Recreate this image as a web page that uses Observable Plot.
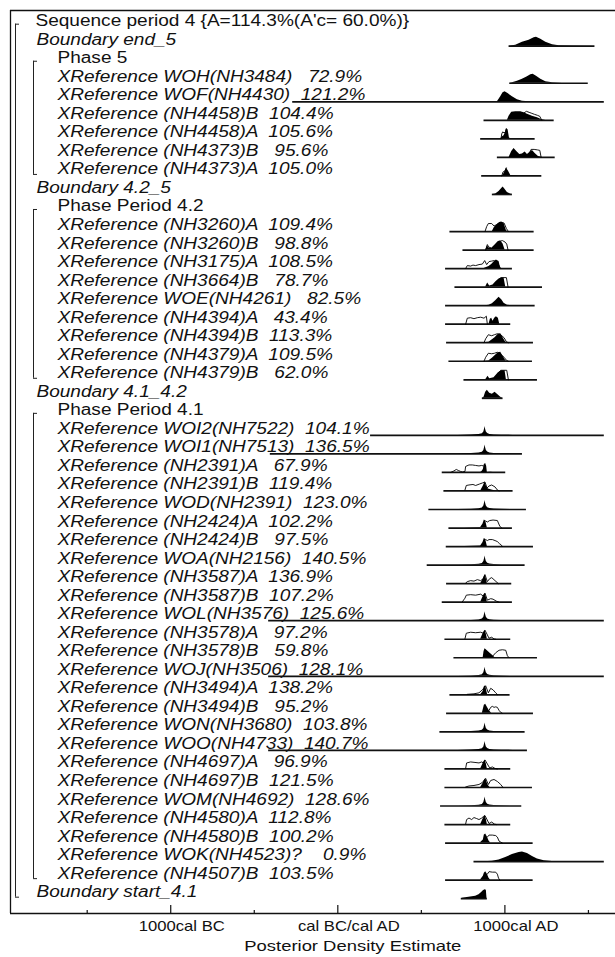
<!DOCTYPE html>
<html><head><meta charset="utf-8">
<script src="https://cdn.jsdelivr.net/npm/d3@7"></script>
<script src="https://cdn.jsdelivr.net/npm/@observablehq/plot@0.6"></script>
<style>
html,body{margin:0;padding:0;background:#fff}
svg text{white-space:pre}
</style>
</head><body><div id="chart"></div>
<script>
// ---------- data ----------
const rowLabels = [
"Sequence period 4 {A=114.3%(A'c= 60.0%)}",
"Boundary end_5",
"Phase 5",
"XReference WOH(NH3484)   72.9%",
"XReference WOF(NH4430)  121.2%",
"XReference (NH4458)B  104.4%",
"XReference (NH4458)A  105.6%",
"XReference (NH4373)B   95.6%",
"XReference (NH4373)A  105.0%",
"Boundary 4.2_5",
"Phase Period 4.2",
"XReference (NH3260)A  109.4%",
"XReference (NH3260)B   98.8%",
"XReference (NH3175)A  108.5%",
"XReference (NH3664)B   78.7%",
"XReference WOE(NH4261)   82.5%",
"XReference (NH4394)A   43.4%",
"XReference (NH4394)B  113.3%",
"XReference (NH4379)A  109.5%",
"XReference (NH4379)B   62.0%",
"Boundary 4.1_4.2",
"Phase Period 4.1",
"XReference WOI2(NH7522)  104.1%",
"XReference WOI1(NH7513)  136.5%",
"XReference (NH2391)A   67.9%",
"XReference (NH2391)B  119.4%",
"XReference WOD(NH2391)  123.0%",
"XReference (NH2424)A  102.2%",
"XReference (NH2424)B   97.5%",
"XReference WOA(NH2156)  140.5%",
"XReference (NH3587)A  136.9%",
"XReference (NH3587)B  107.2%",
"XReference WOL(NH3576)  125.6%",
"XReference (NH3578)A   97.2%",
"XReference (NH3578)B   59.8%",
"XReference WOJ(NH3506)  128.1%",
"XReference (NH3494)A  138.2%",
"XReference (NH3494)B   95.2%",
"XReference WON(NH3680)  103.8%",
"XReference WOO(NH4733)  140.7%",
"XReference (NH4697)A   96.9%",
"XReference (NH4697)B  121.5%",
"XReference WOM(NH4692)  128.6%",
"XReference (NH4580)A  112.8%",
"XReference (NH4580)B  100.2%",
"XReference WOK(NH4523)?    0.9%",
"XReference (NH4507)B  103.5%",
"Boundary start_4.1"];

const rowKinds = ["seq","bnd","phase","item","item","item","item","item","item","bnd","phase",
"item","item","item","item","item","item","item","item","item","bnd","phase",
"item","item","item","item","item","item","item","item","item","item","item","item","item",
"item","item","item","item","item","item","item","item","item","item","item","item","bnd"];

// plotted range (years, cal AD positive)
const rangeStart = [null,1025,null,1029,-270,875,855,955,861,925,null,
671,749,645,701,645,645,651,665,755,865,null,
196,-404,625,635,545,665,649,535,651,625,-414,641,695,-414,671,651,611,-414,641,641,615,641,645,815,645,739];
const rangeEnd = [null,1539,null,1499,1595,1295,1181,1301,1221,1045,null,
1175,1175,1045,1225,1181,1035,1171,1165,1195,989,null,
1595,1105,1005,1049,1129,1045,1171,1121,1041,1045,1595,1035,1195,1595,1031,1171,1121,1135,1035,1165,1101,1035,1169,1595,1169,895];

// shared single-date spike shape [year, relative height]
const spike = [[720,0],[800,0.3],[845,0.8],[865,1.6],[874,3.5],[879,7],[881,9],[884,6.5],[889,3.5],[897,1.8],[910,1],[935,0.5],[980,0.2],[1050,0]];

// posterior (filled) per row: [year, relative height]
const posterior = [
null,
[[1025,0],[1045,0.5],[1065,1],[1105,4],[1145,6],[1175,8.5],[1189,9],[1215,7],[1245,4],[1285,1.5],[1325,0.5],[1405,0.1],[1539,0]],
null,
[[1029,0],[1045,0.5],[1075,2],[1105,4],[1135,6.5],[1155,8.5],[1169,9],[1189,7],[1215,4],[1245,1.5],[1285,0.4],[1345,0.1],[1499,0]],
[[955,0],[975,5],[989,9],[1001,10],[1021,8],[1045,5],[1075,2],[1105,0.6],[1145,0.1],[1200,0]],
[[1015,0],[1025,4],[1041,8],[1065,8.5],[1095,8.5],[1115,7.5],[1135,6],[1165,4],[1195,2.5],[1215,1],[1245,0]],
[[975,0],[985,2],[995,3],[1003,6],[1009,10],[1019,9],[1027,1],[1033,0]],
[[1025,0],[1041,6],[1055,9],[1071,6],[1089,3],[1105,3.5],[1121,5.5],[1135,3],[1149,5],[1165,7],[1181,4],[1201,1],[1225,0]],
[[985,0],[997,3],[1009,8],[1021,5],[1035,0.5],[1065,0.3],[1080,0]],
[[930,0],[945,0.5],[965,3],[981,6],[989,7.5],[997,6],[1015,2],[1035,0.3],[1045,0]],
null,
[[925,0],[937,4],[955,7],[969,9],[981,9.5],[995,8],[1009,1],[1015,0]],
[[885,0],[895,4],[905,2],[921,1.5],[941,5],[961,8.5],[975,9],[989,6],[1001,0]],
[[875,0],[905,2],[921,4],[935,6.5],[949,8.5],[965,7],[975,0]],
[[885,0],[897,4],[909,1],[929,2],[945,5],[965,8],[981,9],[995,9],[1005,0]],
[[880,0],[905,0.5],[925,2],[945,5],[965,8.5],[981,6],[995,2.5],[1015,0.5],[1035,0]],
[[905,0],[913,5],[921,6],[929,3],[939,6],[949,7.5],[961,6],[969,0]],
[[870,0],[905,0.5],[925,3],[941,5],[961,8.5],[975,9],[989,5],[1005,0.5],[1015,0]],
[[870,0],[905,0.5],[925,3],[941,5.5],[961,8.5],[975,9],[989,5],[1005,0.5],[1015,0]],
[[885,0],[899,3.5],[909,1],[935,2],[961,7],[981,9],[1001,9],[1009,0]],
[[865,0],[875,1],[885,6],[895,8],[909,5],[925,4],[941,6],[955,4],[975,1],[989,0]],
null,
spike,
spike,
[[855,0],[863,1],[871,3],[877,8],[885,9],[891,6],[895,0],[915,0.3],[930,0]],
[[855,0],[871,5],[881,9],[891,4],[901,2],[921,1],[945,0]],
spike,
[[760,0],[800,0.3],[855,0.5],[869,4],[877,8],[885,7],[895,0]],
[[760,0],[855,0.5],[869,4],[877,8],[885,7],[895,0]],
spike,
[[855,0],[871,5],[881,9],[889,5],[895,0]],
[[855,0],[871,6],[881,9],[889,5],[895,0]],
spike,
[[855,0],[871,6],[881,9],[889,5],[895,0]],
[[870,0],[875,6],[881,9],[895,7],[915,4],[929,2],[941,0]],
spike,
[[855,0],[869,3],[877,8],[885,9],[891,4],[897,0]],
[[865,0],[877,8],[885,9],[895,6],[905,3],[915,1],[921,0]],
spike,
spike,
[[855,0],[871,6],[881,9],[889,5],[895,0]],
[[855,0],[869,4],[877,7],[885,9],[893,5],[901,2],[911,0]],
spike,
[[855,0],[871,6],[881,9],[889,5],[895,0]],
[[855,0.5],[871,3],[877,8],[885,9],[895,6],[905,2],[915,0]],
[[900,0],[925,0.3],[965,1.5],[1005,4],[1045,7],[1085,9],[1105,9.5],[1135,8],[1165,5],[1195,2.5],[1235,0.8],[1285,0.2],[1345,0]],
[[855,0.5],[871,4],[877,7],[885,8.5],[895,6],[905,2],[915,0]],
[[739,0],[745,0.5],[785,1.5],[825,2.5],[845,4],[859,6],[871,8],[881,9],[889,8.5],[893,0]]
];

// prior / likelihood (outline) per row
const prior = [
null,null,null,null,null,
[[1115,7.5],[1129,9],[1145,8],[1161,7],[1177,6],[1195,5],[1209,4],[1221,0]],
[[977,0],[981,5],[987,7],[995,6],[1003,7],[1009,10]],
[[1149,5],[1157,8],[1175,8],[1195,7.5],[1209,7],[1217,0]],
[[981,0],[989,4],[1001,5],[1009,8]],
null,null,
[[881,0],[891,5],[901,8],[921,8],[935,5.5],[951,7],[965,8.5],[981,9],[995,8.5],[1009,3],[1021,0]],
[[885,0],[895,5.5],[903,3],[921,2],[941,5],[961,8.5],[975,9],[985,9.5],[1001,8],[1011,6],[1019,0]],
[[765,0],[775,3],[795,2.5],[809,3.5],[825,3],[845,4],[865,4.5],[879,8],[891,4],[905,7],[921,7.5],[935,8],[955,6],[965,3],[975,0]],
[[965,8],[977,9.5],[1009,9.5],[1019,0]],
null,
[[765,0],[775,6],[795,6.5],[815,5.5],[835,6.5],[855,7],[875,6],[889,8],[895,0]],
[[875,0],[885,4],[901,8],[921,7],[937,8],[955,9],[975,8],[995,5],[1009,1],[1021,0]],
[[875,0],[885,4],[901,8],[921,7.5],[937,8],[955,9],[975,7],[995,4],[1009,1],[1021,0]],
[[961,7],[975,9.5],[1011,9.5],[1021,0]],
null,null,null,null,
[[675,0],[695,1.5],[709,3],[721,2],[735,1],[745,0.5],[761,1],[765,6],[785,7.5],[805,7.5],[825,7],[845,6.5],[861,7],[871,6.5],[885,7]],
[[761,1],[769,5.5],[785,6],[809,6.5],[825,5.5],[849,7],[865,8],[881,9],[893,3],[905,5],[921,6],[941,4],[955,1],[965,0]],
null,
[[885,7],[895,6],[909,7.5],[929,8],[955,7.5],[969,2],[981,0]],
[[885,7],[895,6],[905,7],[925,7],[941,6],[955,5],[967,3],[979,1.5],[985,0]],
null,
[[765,0.5],[775,2],[795,3],[815,2.5],[835,4],[855,3],[871,5],[881,9],[895,2],[909,5],[921,6],[941,3],[961,0]],
[[745,0.3],[761,4],[769,7],[795,7.5],[825,7],[855,8],[871,6],[881,9],[895,2],[915,3.5],[929,3],[949,1],[965,0]],
null,
[[761,0.5],[769,6],[795,7],[825,6.5],[855,7],[871,6],[881,9],[905,1],[921,2],[935,0.3],[945,0]],
[[929,2],[945,5],[965,7.5],[985,8],[1005,7.5],[1015,2],[1025,0]],
null,
[[775,0.5],[815,1],[845,2],[865,5],[875,7],[885,9],[901,2],[915,6.5],[929,5],[945,2],[957,0]],
[[905,3],[915,6],[925,7],[935,6],[945,6.5],[955,6],[965,3],[975,1],[985,0]],
null,null,
[[765,0.5],[771,6],[795,7],[821,6.5],[845,6],[861,7],[871,6],[881,9],[909,1],[925,2],[941,0.5],[955,0]],
[[765,0.5],[785,1.5],[815,2],[845,3],[865,5],[885,9],[901,3],[915,7],[935,8],[955,6],[975,3],[989,0]],
null,
[[765,0.5],[771,5],[785,6.5],[801,5],[815,7],[831,6],[845,5],[861,6.5],[871,8],[881,9],[905,1],[921,2.5],[937,0.5],[949,0]],
[[895,6],[905,8],[925,8],[945,7.5],[955,6],[965,2],[975,1],[985,0]],
null,
[[895,6],[905,8.5],[925,8],[945,8],[955,6],[962,2],[970,0]],
null
];

// brackets (row numbers, 1-based) and nesting level
const bracketFrom = [1, 3, 11, 22];
const bracketTo = [48, 9, 20, 47];
const bracketLevel = [0, 1, 1, 1];

// axis
const tickYears = [-1500, -1000, -500, 0, 500, 1000, 1500];
const labelYears = [-1000, 0, 1000];
const tickLabels = ["1000cal BC", "cal BC/cal AD", "1000cal AD"];
const axisTitle = "Posterior Density Estimate";

// ---------- layout ----------
const W = 615, H = 957, ML = 10, MT = 10, MB = 44;
const X0 = -1959, X1 = 1662;
const Y0 = 0.073, YB = 48.8;
const pxPerRow = (H - MT - MB) / (YB - Y0);
const hk = 1 / pxPerRow;               // one pixel in row units
const yrPerPx = (X1 - X0) / (W - ML);   // one pixel in years
const SX = 1.19;                        // horizontal stretch of the lettering
const FONT = "'Liberation Sans', Arial, Helvetica, sans-serif";

const rows = rowLabels.map((label, i) => ({
  row: i + 1, label, kind: rowKinds[i], start: rangeStart[i], end: rangeEnd[i]
}));
const postPts = rows.flatMap((r, i) => (posterior[i] || []).map(([year, h]) => ({row: r.row, year, base: r.row, top: r.row - h * hk})));
const priorPts = rows.flatMap((r, i) => (prior[i] || []).map(([year, h]) => ({row: r.row, year, top: r.row - h * hk})));
const brackets = bracketFrom.map((f, i) => ({
  from: f, to: bracketTo[i],
  bx: X0 + (bracketLevel[i] === 0 ? 5 : 23) * yrPerPx
}));

const textMark = (kind, dx, italic) => Plot.text(rows.filter(r => r.kind === kind), {
  x: X0, y: "row", text: "label", dx, dy: -1.5,
  textAnchor: "start", lineAnchor: "bottom",
  fontSize: 16, fontStyle: italic ? "italic" : "normal", fill: "#111"
});

const chart = Plot.plot({
  width: W, height: H,
  marginLeft: ML, marginRight: 0, marginTop: MT, marginBottom: MB,
  x: {domain: [X0, X1], axis: null},
  y: {domain: [Y0, YB], range: [MT, H - MB], axis: null},
  style: {fontFamily: FONT, fontSize: "16px", background: "#fff", color: "#111", overflow: "visible"},
  marks: [
    // frame
    Plot.ruleY([Y0, YB], {x1: X0, x2: X1, stroke: "#111", strokeWidth: 1.3}),
    Plot.ruleX([X0], {y1: Y0, y2: YB, stroke: "#111", strokeWidth: 1.3}),
    // axis ticks (inside)
    Plot.ruleX(tickYears, {x: d => d, y1: YB, y2: d => YB - (d % 1000 === 0 ? 8 : 3) * hk, stroke: "#111", strokeWidth: 1.2}),
    Plot.text(labelYears, {x: d => d, y: YB, text: (d, i) => tickLabels[i], dx: 11, dy: 13, lineAnchor: "middle", fontSize: 14, fill: "#111"}),
    Plot.text([axisTitle], {x: 0, y: YB, text: d => d, dx: 15, dy: 33, lineAnchor: "middle", fontSize: 15.5, fill: "#111"}),
    // brackets
    Plot.ruleX(brackets, {x: "bx", y1: d => d.from - 3.5 * hk, y2: d => d.to - 1.5 * hk, stroke: "#222", strokeWidth: 1}),
    Plot.ruleY(brackets, {y: d => d.from - 3.5 * hk, x1: "bx", x2: d => d.bx + 4 * yrPerPx, stroke: "#222", strokeWidth: 1}),
    Plot.ruleY(brackets, {y: d => d.to - 1.5 * hk, x1: "bx", x2: d => d.bx + 4 * yrPerPx, stroke: "#222", strokeWidth: 1}),
    // labels
    textMark("seq", 25, false),
    textMark("bnd", 26, true),
    textMark("phase", 47, false),
    textMark("item", 47, true),
    // ranges
    Plot.ruleY(rows.filter(r => r.start != null), {y: "row", x1: "start", x2: "end", stroke: "#111", strokeWidth: 1.7}),
    // distributions
    Plot.areaY(postPts, {x: "year", y1: "base", y2: "top", z: "row", fill: "#000", curve: "linear"}),
    Plot.line(priorPts, {x: "year", y: "top", z: "row", stroke: "#000", strokeWidth: 0.9, curve: "linear"})
  ]
});

chart.querySelectorAll("text").forEach(t => {
  t.setAttribute("transform", (t.getAttribute("transform") || "") + ` scale(${SX},1)`);
});
document.getElementById("chart").appendChild(chart);
</script>
</body></html>
